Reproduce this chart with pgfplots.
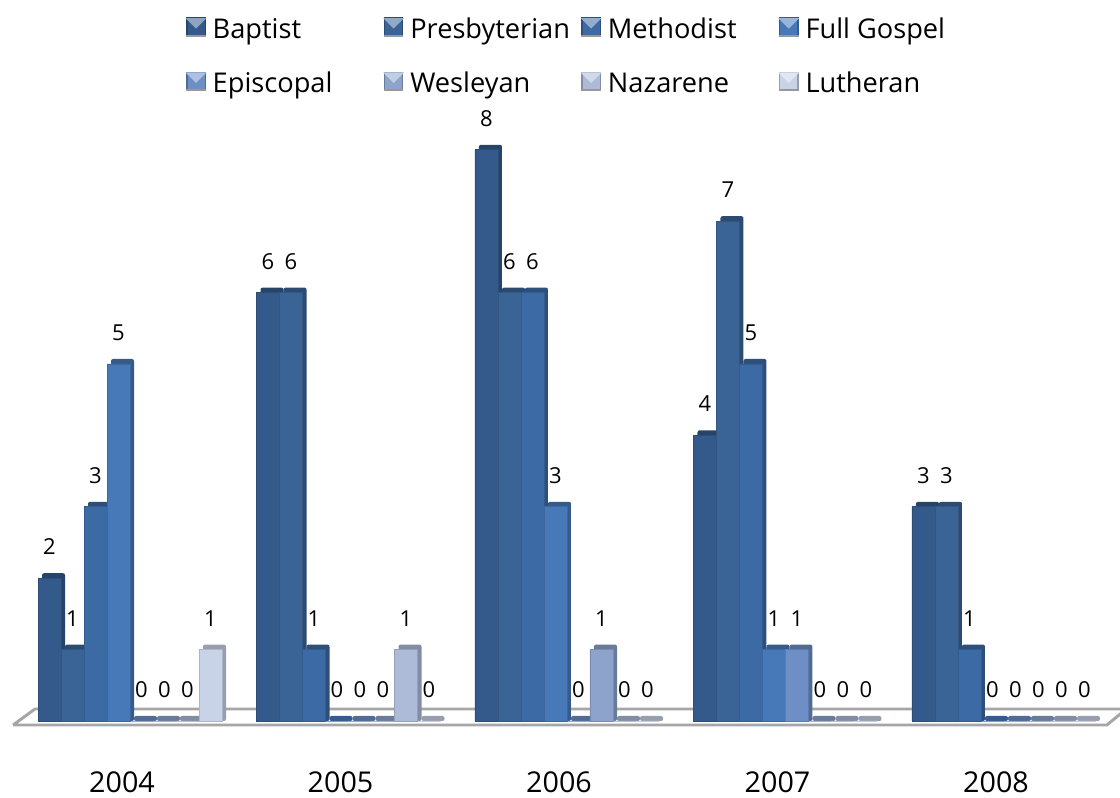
\documentclass[border=0pt]{standalone}
\usepackage{fontspec}
\setmainfont{Open Sans}
\usepackage{pgfplots}
\usepackage{pgfplotstable}
\pgfplotsset{compat=1.18}

\definecolor{cBaptist}{HTML}{335A8A}
\definecolor{cPresb}{HTML}{3A6496}
\definecolor{cMeth}{HTML}{3C6AA4}
\definecolor{cFull}{HTML}{4779B8}
\definecolor{cEpis}{HTML}{6D8FC6}
\definecolor{cWes}{HTML}{8DA3CC}
\definecolor{cNaz}{HTML}{ADBBD8}
\definecolor{cLuth}{HTML}{C9D3E7}

\pgfplotstableread{
x Baptist Presbyterian Methodist FullGospel Episcopal Wesleyan Nazarene Lutheran
0 2 1 3 5 0 0 0 1
1 6 6 1 0 0 0 1 0
2 8 6 6 3 0 1 0 0
3 4 7 5 1 1 0 0 0
4 3 3 1 0 0 0 0 0
}\churches

% one series: column, bar shift, colour, legend text
\newcommand{\series}[4]{%
  \addplot[forget plot, draw=none, fill=#3!75!black, rounded corners=1.5pt,
    bar shift=#2, xshift=3pt]
    table[x=x, y expr=\thisrow{#1}+0.07] {\churches};
  \addplot[draw=#3!86!black, line width=0.7pt, fill=#3,
    bar shift=#2,
    legend image code/.code={
      \fill[#3!75!black] (0pt,-6.5pt) rectangle (14pt,7.5pt);
      \fill[#3] (1pt,-5pt) rectangle (13pt,6pt);
      \fill[#3!55!white] (0pt,7pt) -- (14pt,7pt) -- (7pt,0pt) -- cycle;
      \fill[black!40] (0pt,-6.5pt) rectangle (14pt,-5.5pt);
    }]
    table[x=x, y=#1] {\churches};
  \addlegendentry{\makebox[129.5pt][l]{\hspace*{3.2pt}\strut #4}}
}
% value labels go over every bar
\newcommand{\labels}[2]{%
  \addplot[forget plot, draw=none, fill=none, bar shift=#2, nodes near coords]
    table[x=x, y=#1] {\churches};
}

\begin{document}
\begin{tikzpicture}
\path[use as bounding box] (0,0) rectangle (840pt,598.5pt);
\begin{axis}[
    at={(0,0)}, anchor=south west,
    scale only axis, width=840pt, height=598.5pt,
    xmin=-0.595, xmax=4.531, ymin=-1.0784, ymax=10.098,
    ybar, bar width=17.25pt,
    axis line style={draw=none},
    ytick=\empty,
    xtick={0,1,2,3,4},
    xticklabels={2004,2005,2006,2007,2008},
    major tick length=0pt,
    xticklabel style={font=\fontsize{21.5}{24}\selectfont, anchor=center, xshift=-6pt, yshift=12pt},
    /pgf/number format/assume math mode=true,
    every node near coord/.append style={anchor=center, yshift=23.5pt, text=black,
      font=\fontsize{16.5}{19}\selectfont},
    legend columns=4,
    legend cell align=left,
    legend style={at={(0.166,0.984)}, anchor=north west, draw=none, fill=none, inner sep=0pt,
      font=\fontsize{20.4}{24}\selectfont, row sep=18.5pt},
]
% floor of the chart
\addplot[forget plot, sharp plot, draw=black!35, fill=white, line width=2.2pt]
    coordinates {(-0.535,-0.056) (-0.435,0.168) (4.56,0.168) (4.471,-0.056) (-0.535,-0.056)};
\series{Baptist}{-60.375pt}{cBaptist}{Baptist}
\series{Presbyterian}{-43.125pt}{cPresb}{Presbyterian}
\series{Methodist}{-25.875pt}{cMeth}{Methodist}
\series{FullGospel}{-8.625pt}{cFull}{Full Gospel}
\series{Episcopal}{8.625pt}{cEpis}{Episcopal}
\series{Wesleyan}{25.875pt}{cWes}{Wesleyan}
\series{Nazarene}{43.125pt}{cNaz}{Nazarene}
\series{Lutheran}{60.375pt}{cLuth}{Lutheran}
\labels{Baptist}{-60.375pt}
\labels{Presbyterian}{-43.125pt}
\labels{Methodist}{-25.875pt}
\labels{FullGospel}{-8.625pt}
\labels{Episcopal}{8.625pt}
\labels{Wesleyan}{25.875pt}
\labels{Nazarene}{43.125pt}
\labels{Lutheran}{60.375pt}
\end{axis}
\end{tikzpicture}
\end{document}
